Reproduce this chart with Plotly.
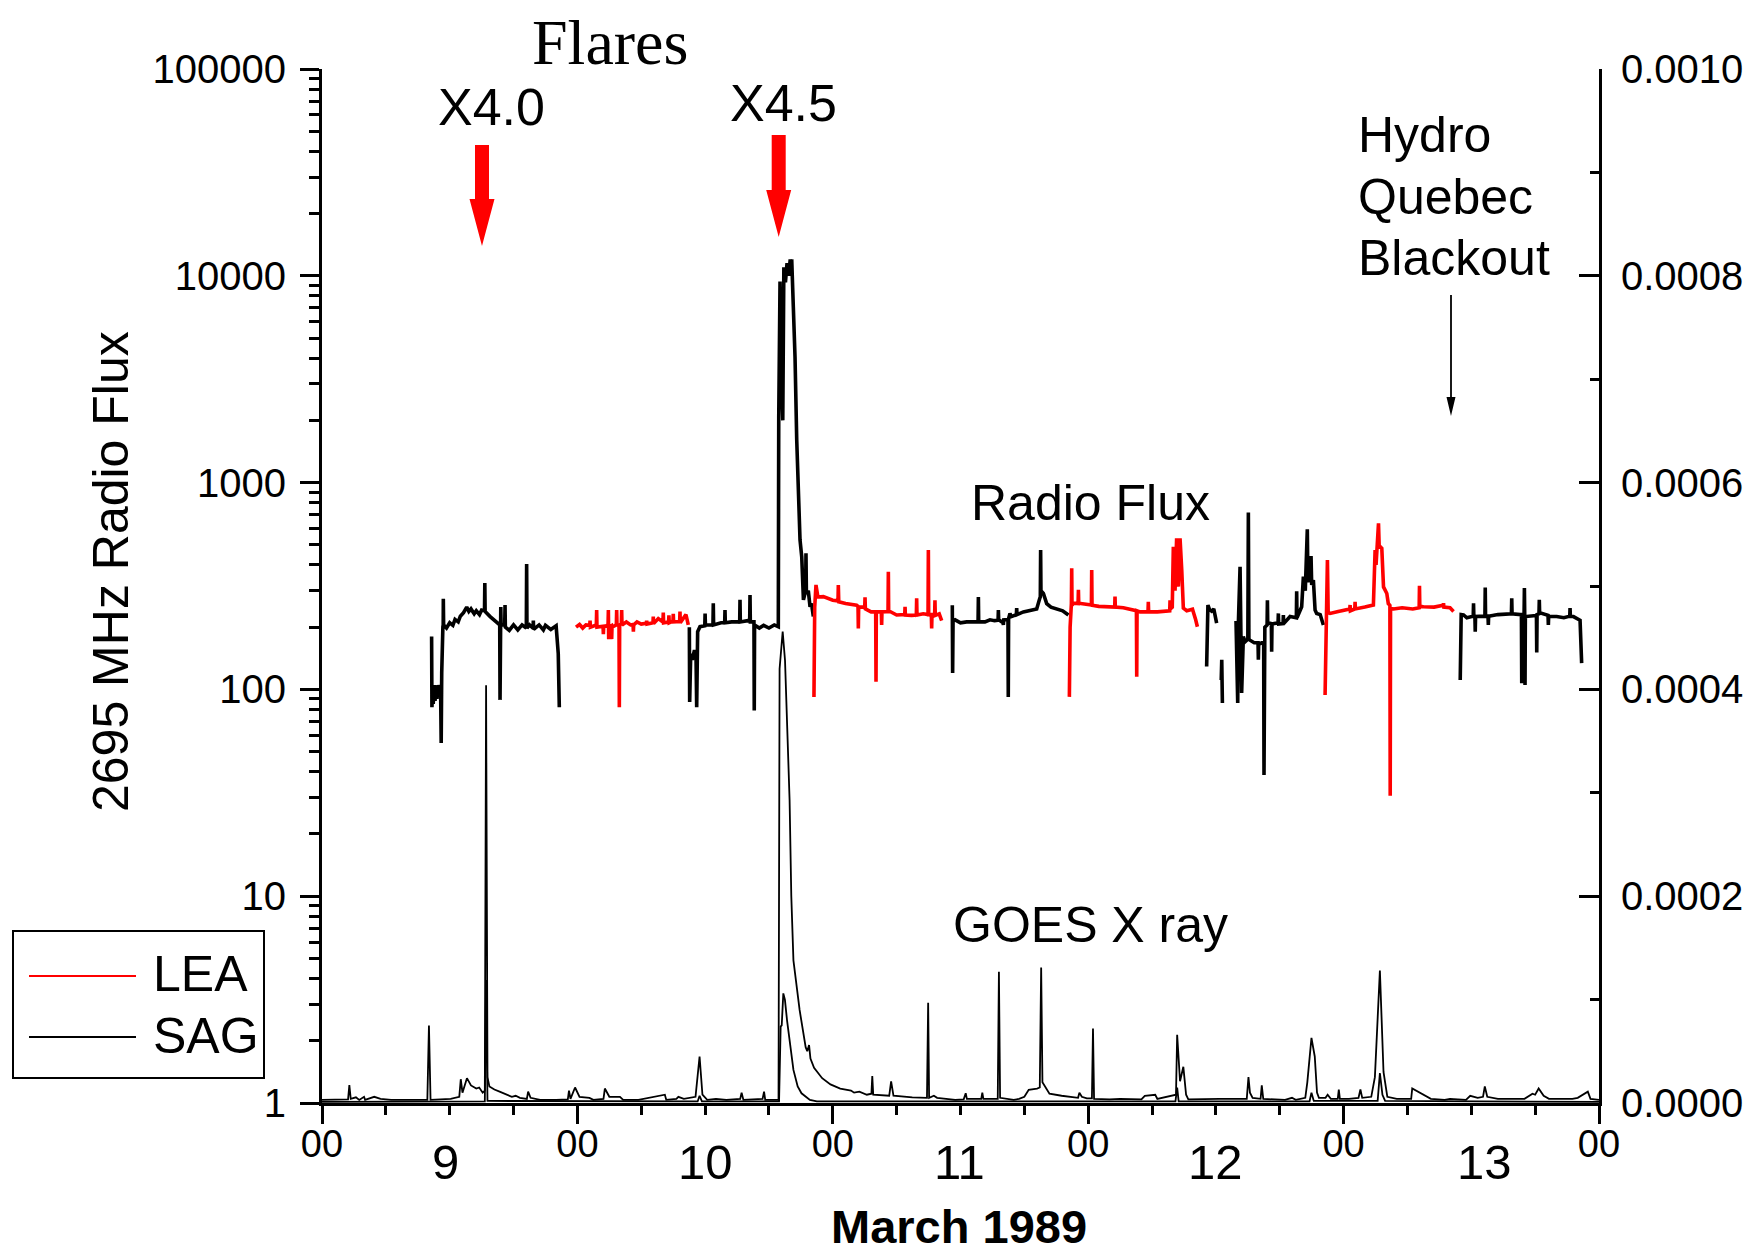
import plotly.graph_objects as go

# ---------------- DATA (time in hours after 1989-03-09 00:00 UT) ----------------
# 2695 MHz radio flux (sfu), SAG (black) and LEA (red) station segments
sag1_h = [10.30, 10.33, 10.40, 10.45, 10.55, 10.62, 10.70, 10.80, 10.90, 11.00, 11.09, 11.15, 11.20, 11.25, 11.28,
          11.36, 11.39, 11.40, 11.43, 11.70, 12.00, 12.30, 12.50, 12.80, 13.00, 13.30, 13.60, 13.80, 14.00, 14.30,
          14.50, 14.80, 15.00, 15.27, 15.30, 15.33, 15.80, 16.30, 16.70, 16.73, 16.76, 16.80, 16.83, 17.17, 17.20,
          17.23, 17.60, 18.00, 18.40, 18.80, 19.20, 19.23, 19.26, 19.50, 19.83, 19.86, 19.89, 20.40, 20.80, 21.00,
          21.50, 22.00, 22.20, 22.30]
sag1_v = [180, 82, 100, 85, 105, 88, 100, 90, 105, 92, 100, 95, 55, 120, 180,
          201, 205, 274, 205, 198, 210, 204, 218, 212, 226, 235, 250, 238, 245, 232,
          240, 230, 242, 240, 327, 238, 225, 212, 205, 89, 205, 250, 205, 205, 256,
          200, 193, 205, 194, 205, 198, 404, 198, 205, 198, 215, 195, 205, 194, 204,
          195, 203, 149, 82]

lea1_h = [23.87, 24.20, 24.50, 24.80, 25.16, 25.19, 25.22, 25.78, 25.81, 25.84, 26.41, 26.44, 26.47, 26.88, 26.91,
          26.94, 26.97, 27.19, 27.22, 27.25, 27.66, 27.69, 27.72, 27.91, 27.94, 27.97, 28.13, 28.16, 28.19, 28.60,
          29.00, 29.23, 29.26, 29.29, 29.60, 30.00, 30.48, 30.51, 30.54, 31.10, 31.13, 31.16, 31.60, 32.04, 32.07,
          32.10, 32.57, 32.60, 32.63, 32.98, 33.01, 33.04, 33.61, 33.64, 33.67, 34.20, 34.42]
lea1_v = [200, 206, 198, 205, 204, 215, 200, 205, 242, 200, 202, 185, 200, 205, 242,
          175, 200, 203, 175, 200, 205, 242, 205, 205, 82, 205, 208, 242, 205, 212,
          205, 206, 190, 205, 212, 207, 209, 215, 207, 210, 225, 208, 220, 212, 235,
          210, 212, 228, 210, 214, 232, 212, 213, 238, 210, 230, 205]

sag2_h = [34.52, 34.55, 34.65, 34.80, 35.00, 35.15, 35.21, 35.30, 35.52, 35.97, 36.00, 36.03, 36.50, 36.74, 36.77,
          36.80, 37.50, 37.84, 37.87, 37.90, 38.50, 39.25, 39.28, 39.31, 40.00, 40.19, 40.22, 40.25, 40.59, 40.62,
          40.65, 41.10, 41.50, 42.00, 42.50, 42.88, 42.92, 43.04, 43.15, 43.30, 43.40, 43.55, 43.70, 43.85, 44.00,
          44.10, 44.14, 44.29, 44.45, 44.61, 44.76, 44.92, 45.08, 45.24, 45.45, 45.48, 45.52, 45.70, 45.86, 46.00,
          46.17]
sag2_v = [200, 87, 149, 139, 155, 140, 82, 190, 201, 203, 233, 205, 205, 206, 261,
          205, 210, 210, 242, 210, 212, 212, 271, 212, 215, 214, 286, 212, 212, 79,
          205, 198, 204, 198, 205, 201, 2083, 9370, 3500, 2000, 11000, 9300, 11500, 10000, 12000,
          10200, 12000, 7090, 4060, 1610, 921, 528, 438, 271, 300, 455, 290, 300, 251, 260,
          225]

lea2_h = [46.23, 46.30, 46.42, 46.60, 47.11, 47.60, 48.00, 48.49, 48.52, 48.56, 49.20, 49.70, 50.24, 50.37, 50.40,
          50.43, 51.00, 51.03, 51.06, 51.60, 52.03, 52.06, 52.09, 52.56, 52.59, 52.62, 53.19, 53.22, 53.25, 54.00,
          54.76, 54.79, 54.82, 55.40, 55.85, 55.88, 55.91, 56.50, 56.95, 56.98, 57.01, 57.26, 57.29, 57.32, 57.57,
          57.60, 57.63, 58.00, 58.23]
lea2_v = [92, 250, 320, 280, 281, 275, 270, 268, 320, 265, 260, 258, 255, 252, 197,
          250, 250, 279, 245, 237, 237, 109, 237, 237, 205, 237, 238, 371, 240, 229,
          230, 251, 229, 228, 229, 276, 229, 232, 230, 472, 230, 230, 197, 230, 229,
          270, 228, 232, 215]

sag3_h = [59.23, 59.26, 59.30, 59.49, 60.00, 60.58, 61.20, 61.65, 61.68, 61.71, 62.30, 62.77, 63.20, 63.53, 63.56,
          63.59, 64.00, 64.03, 64.06, 64.46, 64.49, 64.52, 64.65, 64.75, 65.25, 65.28, 65.31, 65.91, 66.50, 67.16,
          67.45, 67.50, 67.53, 67.56, 67.79, 68.10, 68.50, 69.04, 69.60, 70.14]
sag3_v = [255, 120, 215, 217, 210, 212, 212, 212, 280, 212, 212, 217, 215, 216, 242,
          217, 210, 205, 217, 218, 92, 220, 233, 225, 230, 247, 230, 237, 240, 245,
          276, 280, 472, 300, 291, 260, 250, 245, 240, 229]

lea3_h = [70.23, 70.30, 70.42, 70.45, 70.48, 70.61, 71.05, 71.08, 71.11, 71.80, 72.30, 72.33, 72.36, 73.00, 73.80,
          74.49, 74.52, 74.55, 75.30, 76.00, 76.53, 76.56, 76.59, 76.87, 77.62, 77.65, 77.68, 78.50, 79.38, 79.66,
          79.69, 79.72, 79.90, 80.00, 80.16, 80.31, 80.47, 80.63, 80.79, 80.94, 81.26, 81.80, 82.10, 82.26]
lea3_v = [92, 200, 260, 385, 255, 261, 260, 303, 261, 258, 256, 378, 255, 252, 250,
          250, 281, 250, 248, 242, 240, 115, 240, 237, 237, 265, 237, 237, 240, 240,
          270, 245, 250, 490, 300, 538, 314, 538, 378, 247, 240, 244, 217, 201]

sag4a_h = [83.13, 83.19, 83.25, 83.40, 83.60, 83.80, 83.92, 84.00, 84.07]
sag4a_v = [129, 251, 256, 243, 239, 245, 225, 216, 209]

sag4b_h = [84.45, 84.50, 84.55, 84.61]
sag4b_v = [111, 111, 139, 86]

sag4_h = [85.89, 86.05, 86.10, 86.27, 86.42, 86.50, 86.58, 86.74, 87.00, 87.05, 87.10, 87.20, 87.60, 87.96, 87.99,
          88.02, 88.30, 88.49, 88.52, 88.60, 88.81, 88.84, 88.87, 89.09, 89.21, 89.24, 89.27, 89.84, 89.87, 89.90,
          90.31, 90.34, 90.37, 90.97, 91.56, 91.59, 91.62, 92.06, 92.22, 92.40, 92.59, 92.65, 92.94, 93.00, 93.16,
          93.32, 93.47, 93.80, 94.10]
sag4_v = [214, 86, 200, 392, 96, 180, 180, 170, 175, 716, 175, 173, 168, 168, 139,
          165, 168, 168, 38.6, 200, 205, 270, 209, 209, 208, 152, 207, 210, 233, 207,
          208, 229, 208, 225, 222, 298, 222, 251, 351, 300, 594, 330, 442, 320, 338,
          242, 233, 230, 205]

lea4_h = [94.26, 94.40, 94.48, 94.55, 94.73, 95.50, 96.20, 96.58, 96.61, 96.64, 97.05, 97.08, 97.11, 98.00, 98.50,
          98.80, 98.96, 99.05, 99.28, 99.35, 99.43, 99.59, 99.75, 100.06, 100.20, 100.35, 100.38, 100.41, 100.69,
          101.50, 102.50, 103.10, 103.13, 103.16, 103.51, 104.50, 105.36, 105.39, 105.42, 106.00, 106.33]
lea4_v = [94, 220, 422, 235, 233, 238, 242, 245, 256, 240, 245, 265, 245, 250, 255,
          256, 472, 400, 636, 480, 490, 481, 313, 291, 260, 255, 30.6, 245, 245,
          248, 245, 248, 317, 252, 251, 250, 255, 261, 250, 248, 238]

sag5_h = [106.96, 107.05, 107.27, 107.58, 108.18, 108.21, 108.24, 108.34, 108.37, 108.40, 109.28, 109.31, 109.34,
          109.57, 109.60, 109.63, 110.50, 111.77, 111.80, 111.83, 112.71, 112.74, 112.77, 112.96, 112.99, 113.02,
          113.05, 113.08, 114.12, 114.15, 114.18, 114.36, 114.39, 114.42, 115.21, 115.24, 115.27, 116.02, 116.70,
          117.25, 117.28, 117.31, 117.60, 118.22, 118.37]
sag5_v = [111, 230, 229, 222, 226, 261, 225, 225, 190, 225, 226, 311, 226,
          226, 205, 226, 230, 232, 276, 232, 230, 107, 230, 230, 309, 230,
          105, 225, 228, 151, 230, 232, 271, 235, 228, 205, 225, 225, 222,
          226, 247, 225, 225, 216, 134]

# GOES X-ray flux (W m^-2), long (1-8 A) and short (0.5-4 A) channels
goes_long_h = [0.0, 1.5, 2.45, 2.57, 2.70, 3.19, 3.5, 3.95, 4.05, 4.91, 5.5, 6.5, 9.9, 10.05, 10.2,
               12.09, 12.9, 13.04, 13.2, 13.62, 14.0, 14.5, 14.77, 15.1, 15.30, 15.42, 15.55, 15.73, 16.2, 16.69,
               17.3, 17.84, 18.2, 18.6, 19.25, 19.37, 19.6, 20.5, 22.0, 23.1, 23.21, 23.35, 23.78, 24.2, 25.13,
               25.5, 26.45, 26.58, 27.0, 28.0, 28.3, 29.73, 32.22, 32.35, 33.3, 33.49, 34.0, 35.1, 35.48, 35.75,
               36.2, 37.02, 38.0, 39.3, 39.43, 39.6, 41.4, 41.54, 41.65, 42.9, 43.0, 43.29, 43.51, 43.82, 43.94,
               44.1, 44.30, 44.88, 45.45, 45.6, 45.77, 45.9, 46.24, 47.0, 47.78, 48.7, 49.71, 50.0, 50.5, 51.2,
               51.63, 51.71, 51.8, 53.3, 53.48, 53.7, 54.5, 55.47, 56.85, 56.96, 57.05, 57.5, 57.8, 58.5, 59.5,
               60.3, 60.49, 60.6, 61.95, 62.05, 62.15, 63.5, 63.61, 63.72, 64.5, 65.0, 65.5, 66.0, 66.41, 66.8,
               67.19, 67.45, 67.58, 67.7, 68.36, 69.5, 70.70, 71.05, 71.17, 71.4, 71.87, 72.35, 72.45, 72.55, 74.0,
               75.0, 77.0, 77.32, 78.30, 78.5, 80.25, 80.36, 80.63, 80.94, 81.2, 81.41, 84.33, 86.9, 87.06, 87.2,
               87.45, 88.2, 88.31, 88.45, 90.5, 91.15, 91.5, 92.4, 92.59, 92.98, 93.29, 93.50, 93.68, 94.3, 94.5,
               94.8, 95.45, 95.55, 95.65, 96.5, 97.4, 97.58, 97.75, 98.6, 98.94, 99.41, 99.75, 100.11, 101.0,
               102.35, 102.45, 103.3, 104.20, 105.5, 106.0, 107.5, 107.90, 108.6, 109.1, 109.27, 109.5, 110.5,
               112.0, 113.0, 113.75, 114.0, 114.33, 114.8, 115.3, 117.5, 118.0, 118.95, 119.2, 120.0]
goes_long_f = [3e-6, 3e-6, 3.5e-6, 1.74e-5, 4e-6, 5.5e-6, 3e-6, 6e-6, 3e-6, 6e-6, 4e-6, 3e-6, 3e-6, 7.5e-5, 3e-6,
               4e-6, 6e-6, 2.3e-5, 1e-5, 2.4e-5, 1.7e-5, 1.4e-5, 1.5e-5, 1.0e-5, 1.2e-5, 4.04e-4, 2.5e-5, 1.6e-5, 1.3e-5, 1.1e-5,
               8e-6, 6e-6, 7e-6, 5e-6, 4e-6, 1.1e-5, 5e-6, 3e-6, 3e-6, 3.5e-6, 1.2e-5, 4e-6, 1.5e-5, 6e-6, 5e-6,
               3e-6, 4e-6, 1.4e-5, 6e-6, 6e-6, 3e-6, 3e-6, 8e-6, 3e-6, 4e-6, 6e-6, 4e-6, 6e-6, 4.5e-5, 8e-6,
               3e-6, 4e-6, 3e-6, 4e-6, 1.0e-5, 3e-6, 4e-6, 1.1e-5, 3e-6, 3e-6, 4.2e-4, 4.56e-4, 4.28e-4, 3.3e-4, 2.93e-4,
               2.0e-4, 1.38e-4, 9e-5, 5.4e-5, 5.0e-5, 5.6e-5, 4.3e-5, 3.4e-5, 2.4e-5, 1.8e-5, 1.4e-5, 1.2e-5, 1.0e-5, 1.1e-5, 8e-6,
               9e-6, 2.6e-5, 8e-6, 7e-6, 2.1e-5, 7e-6, 6e-6, 5.5e-6, 5e-6, 9.7e-5, 5e-6, 7e-6, 5e-6, 4e-6, 3e-6,
               3.5e-6, 9.4e-6, 4e-6, 4e-6, 1e-5, 4e-6, 4e-6, 1.27e-4, 5e-6, 4e-6, 3e-6, 4e-6, 6e-6, 1.27e-5, 1.3e-5,
               1.4e-5, 1.5e-5, 1.31e-4, 2e-5, 9e-6, 7e-6, 5.8e-6, 5e-6, 1.0e-5, 6e-6, 4.5e-6, 4.5e-6, 7.2e-5, 4e-6, 3.5e-6,
               4e-6, 3.5e-6, 7e-6, 8e-6, 4e-6, 8e-6, 6.6e-5, 2.1e-5, 3.5e-5, 8e-6, 3.5e-6, 4e-6, 4e-6, 2.5e-5, 1e-5,
               5e-6, 4e-6, 1.7e-5, 4e-6, 3e-6, 5e-6, 3e-6, 5e-6, 2e-5, 6.3e-5, 4.5e-5, 1e-5, 5e-6, 5e-6, 8e-6,
               4e-6, 4e-6, 1.3e-5, 4e-6, 4e-6, 5e-6, 1.3e-5, 5e-6, 6e-6, 2.5e-5, 1.28e-4, 3.0e-5, 6e-6, 4e-6,
               4e-6, 1.4e-5, 9e-6, 4e-6, 3e-6, 4e-6, 3e-6, 7e-6, 5e-6, 6e-6, 1.6e-5, 6e-6, 4e-6,
               4e-6, 4e-6, 9e-6, 8e-6, 1.4e-5, 7e-6, 4e-6, 4e-6, 5e-6, 1.1e-5, 4e-6, 3e-6]

goes_short_h = [0.0, 15.3, 15.42, 15.55, 35.3, 35.48, 35.7, 42.95, 43.1, 43.2, 43.35, 43.5, 43.7, 43.9, 44.3,
                44.7, 45.06, 45.85, 46.5, 80.2, 80.36, 80.5, 92.8, 92.98, 93.2, 99.2, 99.41, 99.65, 99.9, 120.0]
goes_short_f = [1e-6, 1.5e-6, 1.19e-4, 2e-6, 1.5e-6, 7e-6, 1.5e-6, 1.5e-6, 7.4e-5, 7.5e-5, 1.06e-4, 1.0e-4, 8e-5, 6.4e-5, 3.2e-5,
                1.6e-5, 9.4e-6, 3e-6, 1.5e-6, 1.5e-6, 1.5e-5, 1.5e-6, 1.5e-6, 1e-5, 2e-6, 2e-6, 2.9e-5, 8e-6, 2e-6, 1e-6]

# Axis ticks / labels
radio_tickvals = [1, 10, 100, 1000, 10000, 100000]
radio_ticktext = ["1", "10", "100", "1000", "10000", "100000"]
xray_tickvals = [0.0, 0.0002, 0.0004, 0.0006, 0.0008, 0.0010]
xray_ticktext = ["0.0000", "0.0002", "0.0004", "0.0006", "0.0008", "0.0010"]
hour_tickvals = [0, 24, 48, 72, 96, 120]
hour_ticktext = ["00", "00", "00", "00", "00", "00"]
day_labels = ["9", "10", "11", "12", "13"]
day_label_pos = [11.6, 36.0, 59.9, 84.0, 109.2]

for a, b in [(sag1_h, sag1_v), (lea1_h, lea1_v), (sag2_h, sag2_v), (lea2_h, lea2_v), (sag3_h, sag3_v),
             (lea3_h, lea3_v), (sag4a_h, sag4a_v), (sag4b_h, sag4b_v), (sag4_h, sag4_v), (lea4_h, lea4_v),
             (sag5_h, sag5_v), (goes_long_h, goes_long_f), (goes_short_h, goes_short_f)]:
    assert len(a) == len(b), (len(a), len(b), a[0])

# ---------------- FIGURE ----------------
PAGE_OFF = 8                      # default page margin of the html body
W, H = 1753 - PAGE_OFF, 1254 - PAGE_OFF
L, R, T, B = 322, 1599, 69, 1103  # plot area in page pixels


def px(X):
    return (X - L) / (R - L)


def py(Y):
    return (B - Y) / (B - T)


def join(segs):
    xs, ys = [], []
    for h, v in segs:
        if xs:
            xs.append(None)
            ys.append(None)
        xs.extend(h)
        ys.extend(v)
    return xs, ys


sag_x, sag_y = join([(sag1_h, sag1_v), (sag2_h, sag2_v), (sag3_h, sag3_v), (sag4a_h, sag4a_v),
                     (sag4b_h, sag4b_v), (sag4_h, sag4_v), (sag5_h, sag5_v)])
lea_x, lea_y = join([(lea1_h, lea1_v), (lea2_h, lea2_v), (lea3_h, lea3_v), (lea4_h, lea4_v)])

FONT = "Liberation Sans, Arial, sans-serif"

fig = go.Figure()
fig.add_trace(go.Scatter(x=goes_long_h, y=goes_long_f, yaxis="y2", mode="lines",
                         line=dict(color="black", width=1.8), showlegend=False, name="GOES 1-8 A"))
fig.add_trace(go.Scatter(x=goes_short_h, y=goes_short_f, yaxis="y2", mode="lines",
                         line=dict(color="black", width=1.8), showlegend=False, name="GOES 0.5-4 A"))
fig.add_trace(go.Scatter(x=sag_x, y=sag_y, mode="lines", connectgaps=False,
                         line=dict(color="black", width=3.6), name="SAG", showlegend=False))
fig.add_trace(go.Scatter(x=lea_x, y=lea_y, mode="lines", connectgaps=False,
                         line=dict(color="#ff0000", width=3.6), name="LEA", showlegend=False))

fig.update_layout(
    width=W, height=H,
    margin=dict(l=L - PAGE_OFF, r=W - (R - PAGE_OFF), t=T - PAGE_OFF, b=H - (B - PAGE_OFF), autoexpand=False),
    paper_bgcolor="white", plot_bgcolor="white",
    font=dict(family=FONT, color="black", size=40),
    showlegend=False,
    xaxis=dict(range=[0, 120], automargin=False, showgrid=False, zeroline=False, showline=True, linewidth=3,
               linecolor="black", tickvals=hour_tickvals, ticktext=hour_ticktext, ticks="outside", ticklen=18,
               tickwidth=3, tickcolor="black", tickfont=dict(size=38, family=FONT), ticklabelstandoff=-13,
               minor=dict(dtick=6, ticks="outside", ticklen=9, tickwidth=3, tickcolor="black", showgrid=False)),
    yaxis=dict(type="log", range=[0, 5], automargin=False, showgrid=False, zeroline=False, showline=True,
               linewidth=3, linecolor="black", tickvals=radio_tickvals, ticktext=radio_ticktext, ticks="outside",
               ticklen=19, tickwidth=3, tickcolor="black", tickfont=dict(size=40, family=FONT),
               ticklabelstandoff=6,
               minor=dict(dtick="D1", ticks="outside", ticklen=10, tickwidth=3, tickcolor="black", showgrid=False)),
    yaxis2=dict(overlaying="y", side="right", anchor="x", range=[0, 0.001], automargin=False, showgrid=False,
                zeroline=False, showline=True, linewidth=3, linecolor="black", tickvals=xray_tickvals,
                ticktext=xray_ticktext, ticks="inside", ticklen=20, tickwidth=3, tickcolor="black",
                tickfont=dict(size=40, family=FONT), ticklabelstandoff=11,
                minor=dict(dtick=0.0001, ticks="inside", ticklen=9, tickwidth=3, tickcolor="black", showgrid=False)),
)

ann = []


def text(s, X, Y, size=50, fam=FONT, xanchor="center", bold=False, angle=0):
    ann.append(dict(text=("<b>%s</b>" % s) if bold else s, x=px(X), y=py(Y), xref="paper", yref="paper",
                    xanchor=xanchor, yanchor="middle", showarrow=False, textangle=angle,
                    font=dict(size=size, family=fam, color="black")))


text("Flares", 610, 42, size=64, fam="Liberation Serif, Times New Roman, serif")
text("X4.0", 491, 107, size=52)
text("X4.5", 783, 103, size=52)
text("Hydro", 1356, 135, xanchor="left")
text("Quebec", 1356, 197, xanchor="left")
text("Blackout", 1356, 258, xanchor="left")
text("Radio Flux", 1090, 503)
text("GOES X ray", 1090, 925)
text("March 1989", 959, 1226, size=47, bold=True)
text("2695 MHz Radio Flux", 111, 572, size=50, angle=-90)
text("LEA", 151, 974, xanchor="left")
text("SAG", 151, 1036, xanchor="left")

for lab, c in zip(day_labels, day_label_pos):
    ann.append(dict(text=lab, x=c, y=py(1162), xref="x", yref="paper", xanchor="center", yanchor="middle",
                    showarrow=False, font=dict(size=49, family=FONT, color="black")))

fig.update_layout(annotations=ann)

shapes = []


def arrow(cx, y_top, y_neck, y_tip, shw, hhw, color):
    pts = [(cx - shw, y_top), (cx + shw, y_top), (cx + shw, y_neck), (cx + hhw, y_neck), (cx, y_tip),
           (cx - hhw, y_neck), (cx - shw, y_neck)]
    path = "M " + " L ".join("%.5f,%.5f" % (px(a), py(b)) for a, b in pts) + " Z"
    shapes.append(dict(type="path", path=path, xref="paper", yref="paper", fillcolor=color,
                       line=dict(width=0), layer="above"))


arrow(482, 145, 199, 246, 7, 12.5, "#ff0000")
arrow(778.7, 135, 190, 237, 7, 12.5, "#ff0000")
# thin black arrow (Hydro Quebec blackout)
shapes.append(dict(type="line", xref="paper", yref="paper", x0=px(1451), x1=px(1451), y0=py(295), y1=py(400),
                   line=dict(color="black", width=1.8)))
arrow(1451, 396, 397, 416, 0.1, 4.5, "black")

# legend box
shapes.append(dict(type="rect", xref="paper", yref="paper", x0=px(13), x1=px(264), y0=py(931), y1=py(1078),
                   line=dict(color="black", width=2), fillcolor="rgba(0,0,0,0)"))
shapes.append(dict(type="line", xref="paper", yref="paper", x0=px(29), x1=px(136), y0=py(976), y1=py(976),
                   line=dict(color="#ff0000", width=2)))
shapes.append(dict(type="line", xref="paper", yref="paper", x0=px(29), x1=px(136), y0=py(1037), y1=py(1037),
                   line=dict(color="black", width=2)))
fig.update_layout(shapes=shapes)

fig.write_html("out.html")
